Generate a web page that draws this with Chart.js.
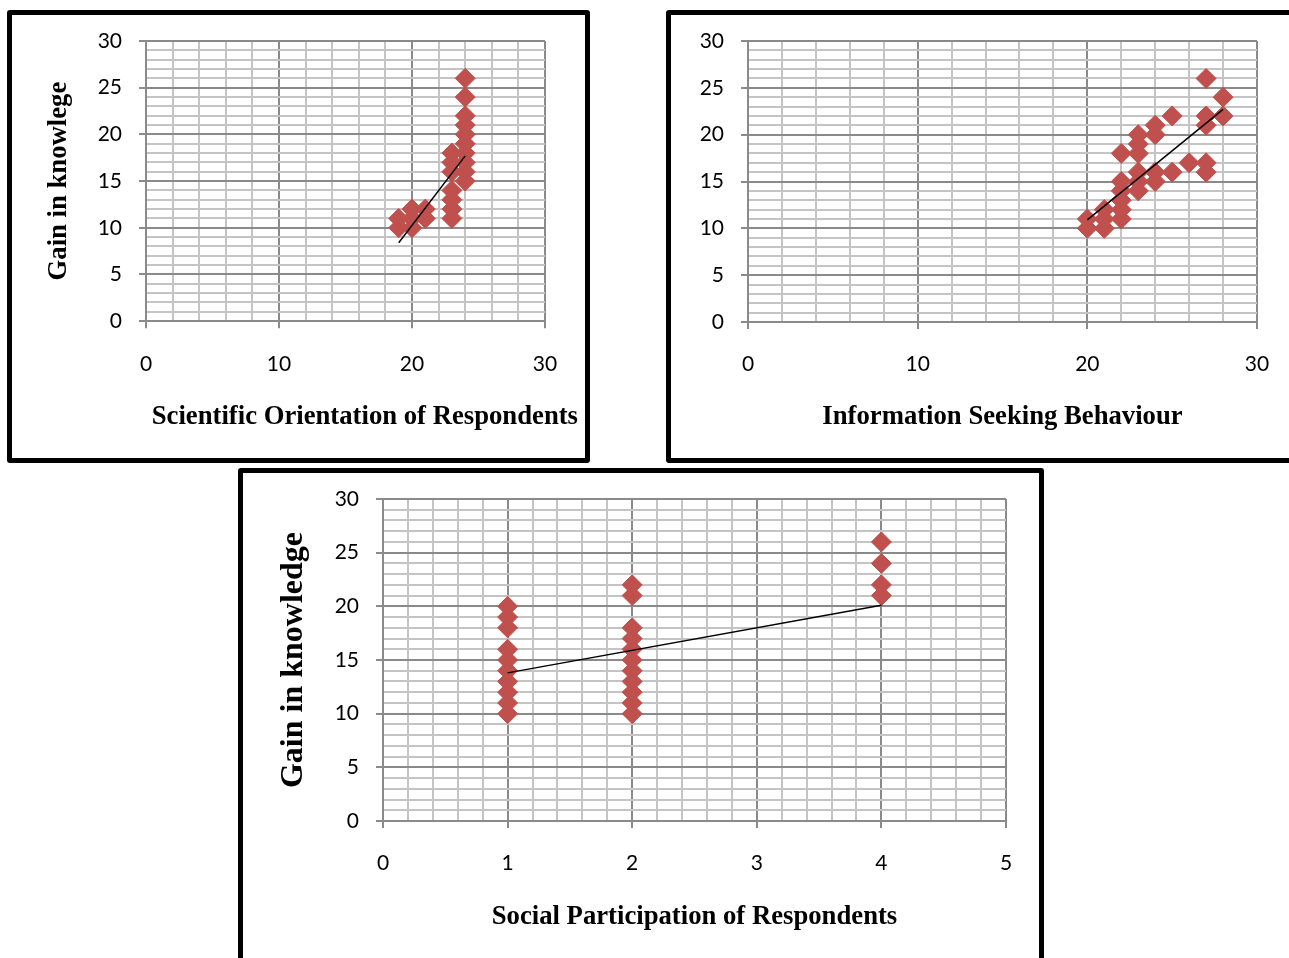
<!DOCTYPE html>
<html>
<head>
<meta charset="utf-8">
<script src="https://cdn.jsdelivr.net/npm/chart.js@4.4.0/dist/chart.umd.min.js"></script>
<style>
  html, body { margin: 0; padding: 0; background: #fff; overflow: hidden; }
  body { width: 1289px; height: 958px; position: relative; }
  .caixa { position: absolute; border: 5px solid #000; border-radius: 3px; box-sizing: border-box; }
  canvas { position: absolute; }
</style>
</head>
<body>
<div class="caixa" style="left:7px;top:10px;width:583px;height:453px"></div>
<div class="caixa" style="left:666px;top:10px;width:640px;height:453px"></div>
<div class="caixa" style="left:238px;top:468px;width:806px;height:510px"></div>
<canvas id="chartCientifica" style="left:12px;top:15px" width="573" height="443"></canvas>
<canvas id="chartInformacao" style="left:671px;top:15px" width="629" height="443"></canvas>
<canvas id="chartSocial" style="left:243px;top:473px" width="796" height="485"></canvas>
<script>
// Orientação científica x ganho de conhecimento
const cientificaX = [19, 19, 20, 20, 20, 21, 21, 23, 23, 23, 23, 23, 23, 23, 24, 24, 24, 24, 24, 24, 24, 24, 24, 24];
const cientificaY = [10, 11, 10, 11, 12, 11, 12, 11, 12, 13, 14, 16, 17, 18, 15, 16, 17, 18, 19, 20, 21, 22, 24, 26];
const cientificaTendX = [19, 24];
const cientificaTendY = [8.4, 17.7];

// Busca de informação x ganho de conhecimento
const informacaoX = [20, 20, 21, 21, 21, 22, 22, 22, 22, 22, 22, 23, 23, 23, 23, 23, 23, 24, 24, 24, 24, 25, 25, 26, 27, 27, 27, 27, 27, 28, 28];
const informacaoY = [10, 11, 10, 11, 12, 11, 12, 13, 14, 15, 18, 14, 15, 16, 18, 19, 20, 15, 16, 20, 21, 16, 22, 17, 16, 17, 21, 22, 26, 22, 24];
const informacaoTendX = [20, 28];
const informacaoTendY = [10.9, 22.7];

// Participação social x ganho de conhecimento
const socialX = [1, 1, 1, 1, 1, 1, 1, 1, 1, 1, 2, 2, 2, 2, 2, 2, 2, 2, 2, 2, 2, 4, 4, 4, 4];
const socialY = [10, 11, 12, 13, 14, 15, 16, 18, 19, 20, 10, 11, 12, 13, 14, 15, 16, 17, 18, 21, 22, 21, 22, 24, 26];
const socialTendX = [1, 4];
const socialTendY = [13.8, 20.1];

const COR_MAIOR = "#8a8a8a";
const COR_MENOR = "#c4c4c4";
const COR_PONTO = "#c0504d";
const FONTE_TICK = { family: "Lato", size: 21 };
const FONTE_TITULO = { family: "'Liberation Serif', 'Times New Roman', serif", size: 26.7, weight: "bold" };

Chart.defaults.animation = false;

const pontos = (xs, ys) => xs.map((x, i) => ({ x, y: ys[i] }));
const inteiro = v => Math.abs(v - Math.round(v)) < 1e-6;

function eixo(min, max, passo, ehMaior, tamanho, horizontal, padTick) {
  const maior = c => c.tick && ehMaior(c.tick.value);
  return {
    type: "linear",
    min, max,
    ticks: {
      stepSize: passo, autoSkip: false, maxRotation: 0, color: "#000",
      font: FONTE_TICK, padding: padTick,
      callback: v => (ehMaior(v) ? String(Math.round(v)) : "")
    },
    grid: {
      color: c => (maior(c) ? COR_MAIOR : COR_MENOR),
      lineWidth: 2,
      tickLength: 7,
      tickColor: c => (maior(c) ? COR_MAIOR : "rgba(0,0,0,0)")
    },
    border: { color: COR_MAIOR, width: 2 },
    afterFit: s => {
      // a margem do gráfico vem só do layout.padding
      if (horizontal) { s.height = tamanho; s.paddingLeft = 0; s.paddingRight = 0; }
      else { s.width = tamanho; s.paddingTop = 0; s.paddingBottom = 0; }
    }
  };
}

function criarGrafico(id, xs, ys, tx, ty, escalas, extras) {
  const el = document.getElementById(id);
  return new Chart(el.getContext("2d"), {
    type: "scatter",
    data: {
      datasets: [
        {
          data: pontos(tx, ty), showLine: true, borderColor: "#000", borderWidth: 1.5,
          pointRadius: 0, order: 0
        },
        {
          data: pontos(xs, ys), pointStyle: "rectRot", pointRadius: 10,
          backgroundColor: COR_PONTO, borderColor: COR_PONTO, borderWidth: 1, order: 1
        }
      ]
    },
    options: Object.assign({
      responsive: false,
      events: [],
      scales: escalas,
      plugins: { legend: { display: false }, tooltip: { enabled: false } }
    }, extras)
  });
}

// gráfico 1
const esc1 = {
  x: eixo(0, 30, 2, v => v % 10 === 0, 79.8, true, 23),
  y: eixo(0, 30, 1, v => v % 5 === 0, 134, false, 17),
  y2: {
    position: "right", display: true,
    grid: { display: false, drawTicks: false }, border: { display: false },
    ticks: { display: false },
    afterFit: s => { s.width = 33; s.paddingTop = 0; s.paddingBottom = 0; }
  }
};
esc1.y.title = { display: true, text: "Gain in knowlege", color: "#000", font: FONTE_TITULO, padding: { top: 31, bottom: 0 } };
criarGrafico("chartCientifica", cientificaX, cientificaY, cientificaTendX, cientificaTendY, esc1, {
  layout: { padding: { top: 26, right: 7, bottom: 0, left: 0 } },
  plugins: {
    legend: { display: false }, tooltip: { enabled: false },
    title: {
      display: true, position: "bottom", align: "end", color: "#000",
      text: "Scientific Orientation of Respondents", font: FONTE_TITULO,
      padding: { top: 0, bottom: 25 }
    }
  }
});

// gráfico 2
const esc2 = {
  x: eixo(0, 30, 2, v => v % 10 === 0, 136, true, 23),
  y: eixo(0, 30, 1, v => v % 5 === 0, 77, false, 17)
};
esc2.x.title = { display: true, text: "Information Seeking Behaviour", color: "#000", font: FONTE_TITULO, padding: { top: 0, bottom: 25 } };
criarGrafico("chartInformacao", informacaoX, informacaoY, informacaoTendX, informacaoTendY, esc2, {
  layout: { padding: { top: 26, right: 43, bottom: 0, left: 0 } }
});

// gráfico 3
const esc3 = {
  x: eixo(0, 5, 0.2, inteiro, 137, true, 23),
  y: eixo(0, 30, 1, v => v % 5 === 0, 140, false, 17)
};
esc3.x.title = { display: true, text: "Social Participation of Respondents", color: "#000", font: FONTE_TITULO, padding: { top: 0, bottom: 25 } };
esc3.y.title = { display: true, text: "Gain in knowledge", color: "#000", font: Object.assign({}, FONTE_TITULO, { size: 32 }), padding: { top: 32, bottom: 0 } };
criarGrafico("chartSocial", socialX, socialY, socialTendX, socialTendY, esc3, {
  layout: { padding: { top: 26, right: 33, bottom: 0, left: 0 } }
});
</script>
</body>
</html>
